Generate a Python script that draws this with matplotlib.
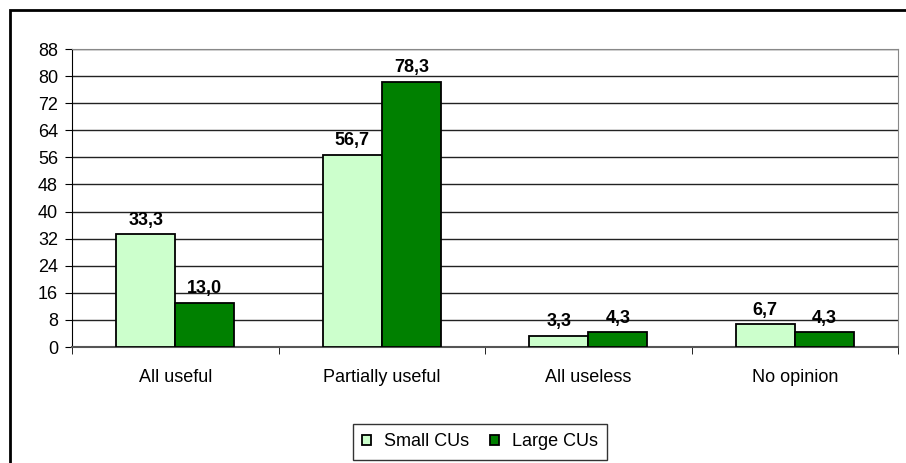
import matplotlib.pyplot as plt
import numpy as np
from matplotlib.patches import Rectangle

categories = ["All useful", "Partially useful", "All useless", "No opinion"]
small_cus = [33.3, 56.7, 3.3, 6.7]
large_cus = [13.0, 78.3, 4.3, 4.3]
series_names = ["Small CUs", "Large CUs"]
yticks = list(range(0, 89, 8))

plt.rcParams['font.family'] = ['Liberation Sans', 'DejaVu Sans']

fig = plt.figure(figsize=(9.06, 4.63), dpi=100)
W, H = 906, 463
ax = fig.add_axes([72 / W, 1 - 347 / H, (898 - 72) / W, (347 - 49) / H])

x = np.arange(len(categories))
w = 0.286
b1 = ax.bar(x - w / 2, small_cus, w, color="#CCFFCC", edgecolor="black", linewidth=1.3, label=series_names[0], zorder=3)
b2 = ax.bar(x + w / 2, large_cus, w, color="#008000", edgecolor="black", linewidth=1.3, label=series_names[1], zorder=3)

# value labels with comma decimals
for bars, vals in ((b1, small_cus), (b2, large_cus)):
    for r, v in zip(bars, vals):
        ax.annotate(f"{v:.1f}".replace(".", ","), (r.get_x() + r.get_width() / 2, v),
                    xytext=(0, 4), textcoords="offset points",
                    ha="center", va="bottom", fontsize=13, fontweight="bold")

ax.set_xlim(-0.5, len(categories) - 0.5)
ax.set_ylim(0, 88)
ax.set_yticks(yticks)
ax.set_yticklabels([str(t) for t in yticks], fontsize=13)
ax.yaxis.grid(True, color="#222222", linewidth=1)
ax.set_axisbelow(True)

ax.set_xticks(x)
ax.set_xticklabels(categories, fontsize=13)
ax.tick_params(axis="x", length=0, pad=16)
ax.set_xticks(np.arange(len(categories) + 1) - 0.5, minor=True)
ax.tick_params(axis="x", which="minor", length=5, direction="out", color="black")
ax.tick_params(axis="y", length=5, direction="out", color="black", pad=5)

ax.spines["top"].set_color("#888888")
ax.spines["right"].set_color("#888888")
ax.spines["left"].set_color("black")
ax.spines["bottom"].set_color("#555555")
ax.spines["bottom"].set_linewidth(1.5)

leg = fig.legend(loc="center", bbox_to_anchor=(480 / W, 1 - 442 / H), ncol=2, fontsize=13,
                 frameon=True, fancybox=False, edgecolor="black", handlelength=0.5,
                 handleheight=0.5, handletextpad=0.7, columnspacing=1.2, borderpad=0.5)
leg.get_frame().set_linewidth(1)

fig.patches.append(Rectangle((10 / W, -0.1), 1.1, 1 - 10 / H + 0.1, transform=fig.transFigure,
                             fill=False, edgecolor="black", linewidth=2))

fig.savefig("out.png", dpi=100)
